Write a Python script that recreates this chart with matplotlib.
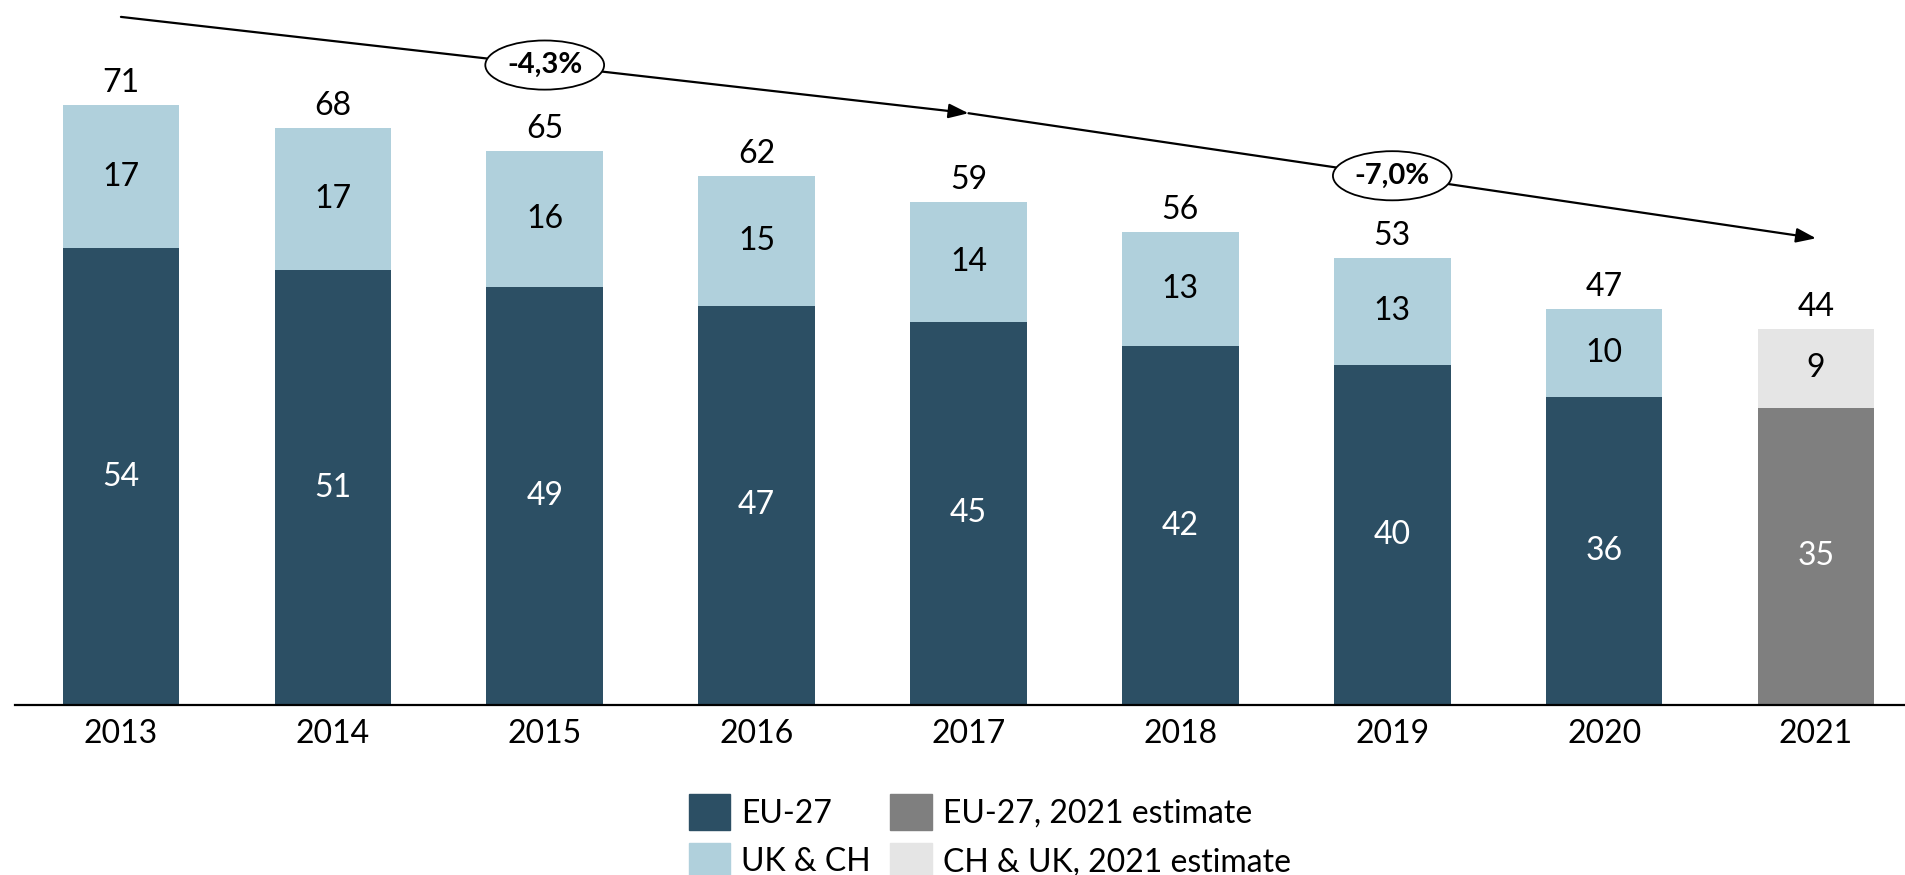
import matplotlib.pyplot as plt
from matplotlib.patches import Patch

years = ['2013', '2014', '2015', '2016', '2017', '2018', '2019', '2020', '2021']
eu27 = [54.0, 51.4, 49.4, 47.2, 45.3, 42.4, 40.2, 36.4, 35.1]
ukch = [17.0, 16.8, 16.1, 15.4, 14.2, 13.5, 12.7, 10.4, 9.4]
eu27_lab = [54, 51, 49, 47, 45, 42, 40, 36, 35]
ukch_lab = [17, 17, 16, 15, 14, 13, 13, 10, 9]
total_lab = [71, 68, 65, 62, 59, 56, 53, 47, 44]

# CAGR arrows: (start index, start value, end index, end value, label)
cagr = [(0, 81.4, 4, 70.0, '-4,3%'), (4, 70.0, 8, 55.2, '-7,0%')]

dark = '#2C4F64'
light = '#B0D0DC'
grey = '#7F7F7F'
lgrey = '#E5E5E5'

plt.rcParams['font.family'] = ['Lato', 'DejaVu Sans']

fig = plt.figure(figsize=(19.05, 8.75), dpi=100)
ax = fig.add_axes([15 / 1905, 1 - 704.7 / 875, 1 - 15 / 1905, 704.7 / 875])

x = list(range(len(years)))
c1 = [dark] * 8 + [grey]
c2 = [light] * 8 + [lgrey]
w = 0.55
ax.bar(x, eu27, w, color=c1)
ax.bar(x, ukch, w, bottom=eu27, color=c2)

fs = 23
for i in x:
    ax.text(i, eu27[i] / 2, str(eu27_lab[i]), ha='center', va='center',
            color='white', fontsize=fs)
    ax.text(i, eu27[i] + ukch[i] / 2, str(ukch_lab[i]), ha='center', va='center',
            color='black', fontsize=fs)
    ax.annotate(str(total_lab[i]), (i, eu27[i] + ukch[i]), xytext=(0, 5),
                textcoords='offset points', ha='center', va='bottom',
                fontsize=fs)

for x0, y0, x1, y1, lab in cagr:
    ax.annotate('', xy=(x1, y1), xytext=(x0, y0),
                arrowprops=dict(arrowstyle='-|>,head_length=0.6,head_width=0.22',
                                color='black', lw=1.6, mutation_scale=20,
                                shrinkA=0, shrinkB=0))
    ax.text((x0 + x1) / 2, (y0 + y1) / 2, lab, ha='center', va='center',
            fontsize=21, fontweight='bold',
            bbox=dict(boxstyle='ellipse,pad=0.15', fc='white', ec='black', lw=1.3))

ax.set_xlim(-0.5, 8.42)
ax.set_ylim(0, 83.4)
ax.set_xticks(x)
ax.set_xticklabels(years, fontsize=fs)
ax.tick_params(axis='x', length=0, pad=10)
ax.set_yticks([])
for s in ['top', 'right', 'left']:
    ax.spines[s].set_visible(False)
ax.spines['bottom'].set_linewidth(1.6)

handles = [Patch(color=dark, label='EU-27'),
           Patch(color=light, label='UK & CH'),
           Patch(color=grey, label='EU-27, 2021 estimate'),
           Patch(color=lgrey, label='CH & UK, 2021 estimate')]
fig.legend(handles=handles, ncol=2, loc='center', bbox_to_anchor=(0.5195, 0.044),
           frameon=False, fontsize=fs, handlelength=1.3, handleheight=1.35,
           handletextpad=0.35, columnspacing=0.6, labelspacing=0.4)

fig.savefig('out.png', dpi=100)
